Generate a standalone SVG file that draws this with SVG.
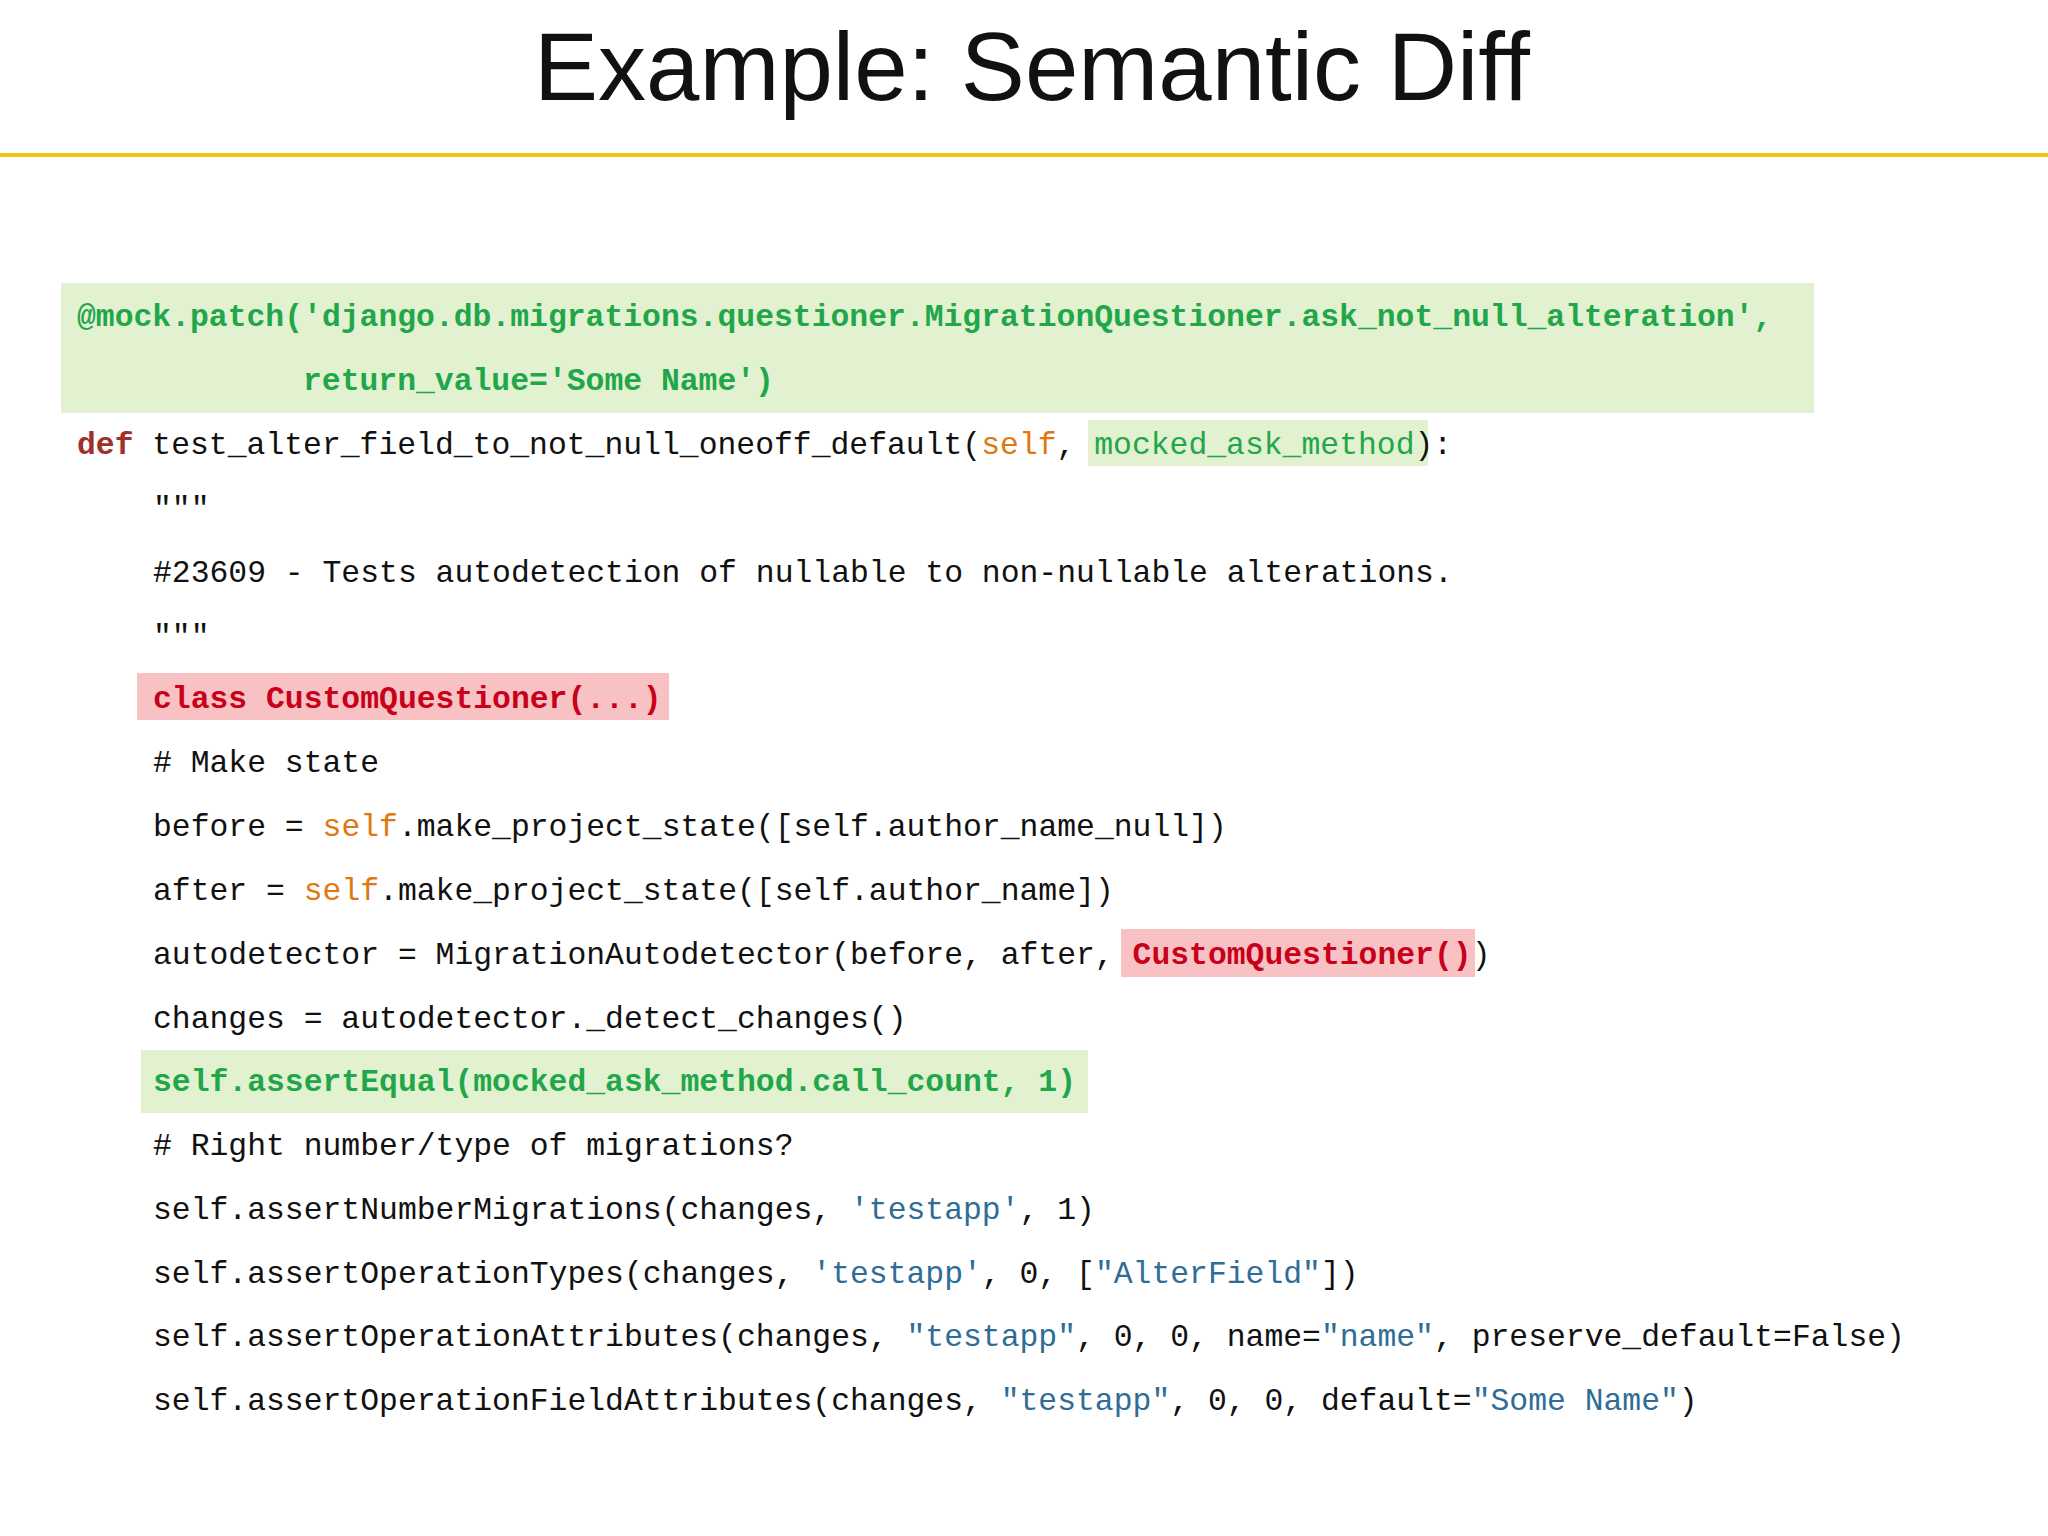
<svg xmlns="http://www.w3.org/2000/svg" width="2048" height="1536" viewBox="0 0 2048 1536">
<style>
.c{font-family:"Liberation Mono","DejaVu Sans Mono",monospace;font-size:31.4px;fill:#111}
.g{fill:#22a64a;font-weight:bold}
.gn{fill:#22a64a}
.r{fill:#c8001a;font-weight:bold}
.o{fill:#e07810}
.s{fill:#2f6d96}
.k{fill:#a0302a;font-weight:bold}
.hg{fill:#e2f2d0}
.hr{fill:#f8c2c4}
</style>
<rect width="2048" height="1536" fill="#fff"/>
<g id="title">
<text x="1032" y="100" text-anchor="middle" font-family="Liberation Sans, sans-serif" font-size="96" fill="#111">Example: Semantic Diff</text>
<line x1="0" y1="155" x2="2048" y2="155" stroke="#f2c21a" stroke-width="4"/>
</g>
<g id="highlights">
<rect class="hg" x="61" y="283" width="1753" height="130"/>
<rect class="hg" x="1088" y="420" width="340" height="46"/>
<rect class="hr" x="137" y="673" width="532" height="47"/>
<rect class="hr" x="1121" y="929" width="354" height="48"/>
<rect class="hg" x="141" y="1050" width="947" height="63"/>
</g>
<g id="code" class="c">
<text x="77" y="326" class="g">@mock.patch('django.db.migrations.questioner.MigrationQuestioner.ask_not_null_alteration',</text>
<text x="303" y="390" class="g">return_value='Some Name')</text>
<text x="77" y="454"><tspan class="k">def</tspan> test_alter_field_to_not_null_oneoff_default(<tspan class="o">self</tspan>, <tspan class="gn">mocked_ask_method</tspan>):</text>
<text x="153" y="518">"""</text>
<text x="153" y="582">#23609 - Tests autodetection of nullable to non-nullable alterations.</text>
<text x="153" y="646">"""</text>
<text x="153" y="708" class="r">class CustomQuestioner(...)</text>
<text x="153" y="772"># Make state</text>
<text x="153" y="836">before = <tspan class="o">self</tspan>.make_project_state([self.author_name_null])</text>
<text x="153" y="900">after = <tspan class="o">self</tspan>.make_project_state([self.author_name])</text>
<text x="153" y="964">autodetector = MigrationAutodetector(before, after, <tspan class="r">CustomQuestioner()</tspan>)</text>
<text x="153" y="1028">changes = autodetector._detect_changes()</text>
<text x="153" y="1091" class="g">self.assertEqual(mocked_ask_method.call_count, 1)</text>
<text x="153" y="1155"># Right number/type of migrations?</text>
<text x="153" y="1219">self.assertNumberMigrations(changes, <tspan class="s">'testapp'</tspan>, 1)</text>
<text x="153" y="1283">self.assertOperationTypes(changes, <tspan class="s">'testapp'</tspan>, 0, [<tspan class="s">"AlterField"</tspan>])</text>
<text x="153" y="1346">self.assertOperationAttributes(changes, <tspan class="s">"testapp"</tspan>, 0, 0, name=<tspan class="s">"name"</tspan>, preserve_default=False)</text>
<text x="153" y="1410">self.assertOperationFieldAttributes(changes, <tspan class="s">"testapp"</tspan>, 0, 0, default=<tspan class="s">"Some Name"</tspan>)</text>
</g>
</svg>
